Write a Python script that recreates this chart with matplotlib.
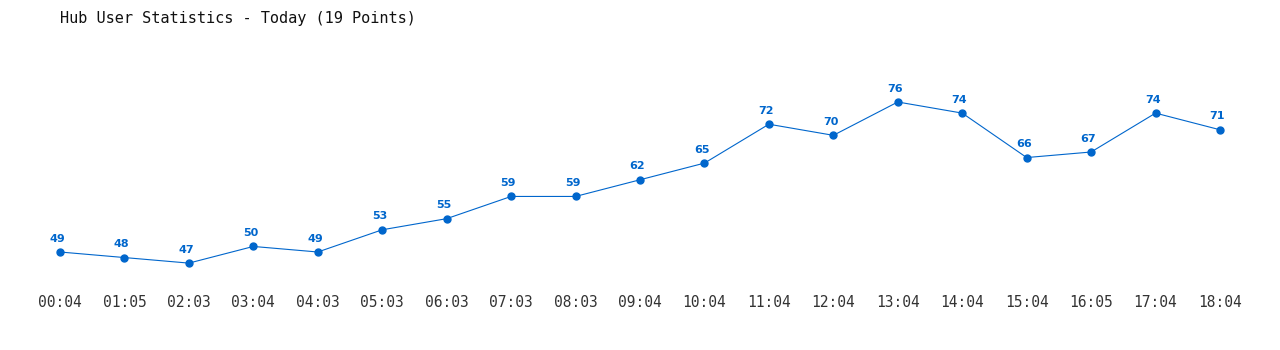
import matplotlib
matplotlib.use("Agg")
import matplotlib.pyplot as plt

times = ["00:04", "01:05", "02:03", "03:04", "04:03", "05:03", "06:03", "07:03", "08:03", "09:04",
         "10:04", "11:04", "12:04", "13:04", "14:04", "15:04", "16:05", "17:04", "18:04"]
users = [49, 48, 47, 50, 49, 53, 55, 59, 59, 62, 65, 72, 70, 76, 74, 66, 67, 74, 71]

blue = "#0066cc"

fig = plt.figure(figsize=(12.8, 3.5), dpi=100)
# axes box in pixels: x 60..1220, y 60..285 (from top)
ax = fig.add_axes([60 / 1280, 1 - 285 / 350, 1160 / 1280, 225 / 350])

x = list(range(len(users)))
ax.plot(x, users, color=blue, lw=0.8, marker="o", ms=5, clip_on=False)
for xi, v in zip(x, users):
    ax.annotate(str(v), (xi, v), xytext=(-2, 6), textcoords="offset points",
                ha="center", va="bottom", color=blue, fontsize=8, fontweight="bold",
                family="DejaVu Sans")

ax.set_xlim(0, 18)
ax.set_ylim(43.06, 83.56)
ax.set_xticks(x)
ax.set_xticklabels(times, family="DejaVu Sans Mono", fontsize=10.5, color="#333333")
ax.tick_params(axis="x", length=0, pad=7)
ax.set_yticks([])
for s in ax.spines.values():
    s.set_visible(False)

fig.text(60 / 1280, 1 - 18 / 350, "Hub User Statistics - Today (19 Points)",
         family="DejaVu Sans Mono", fontsize=11, va="center", ha="left", color="#111111")

fig.savefig("out.png", dpi=100)
